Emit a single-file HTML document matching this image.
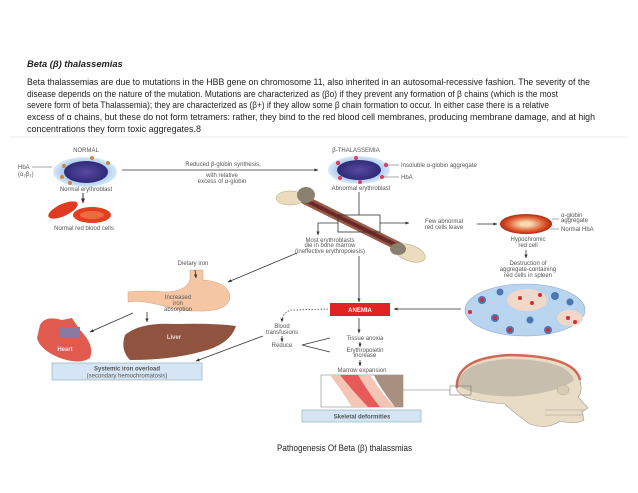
<!DOCTYPE html>
<html><head><meta charset="utf-8"><style>
html,body{margin:0;padding:0;background:#fff}
svg{display:block}
.t{font-family:"Liberation Sans",sans-serif;font-size:6px;fill:#555}
.p{font-family:"Liberation Sans",sans-serif;font-size:9.3px;fill:#222}
</style></head><body>
<svg width="638" height="493" viewBox="0 0 638 493" xmlns="http://www.w3.org/2000/svg">
<defs>
<marker id="a" viewBox="0 0 10 10" refX="9" refY="5" markerWidth="5" markerHeight="5" orient="auto"><path d="M0,1 L10,5 L0,9z" fill="#333"/></marker>
<radialGradient id="cell" cx="50%" cy="50%" r="50%"><stop offset="0.6" stop-color="#9ec3ea"/><stop offset="1" stop-color="#dbe9f7"/></radialGradient>
<radialGradient id="nuc" cx="50%" cy="50%" r="50%"><stop offset="0" stop-color="#5a4aa0"/><stop offset="1" stop-color="#2e2a78"/></radialGradient>
<radialGradient id="hypo" cx="50%" cy="50%" r="50%"><stop offset="0.2" stop-color="#f6d9b0"/><stop offset="0.7" stop-color="#e05a30"/><stop offset="1" stop-color="#b02a10"/></radialGradient>
</defs>
<text x="27" y="67" class="p" font-style="italic" font-weight="bold" font-size="8.5">Beta (β) thalassemias</text>
<text x="27" y="85" class="p" textLength="563" lengthAdjust="spacingAndGlyphs">Beta thalassemias are due to mutations in the HBB gene on chromosome 11, also inherited in an autosomal-recessive fashion. The severity of the</text>
<text x="27" y="97" class="p" textLength="531" lengthAdjust="spacingAndGlyphs">disease depends on the nature of the mutation. Mutations are characterized as (βo) if they prevent any formation of β chains (which is the most</text>
<text x="27" y="108" class="p" textLength="522" lengthAdjust="spacingAndGlyphs">severe form of beta Thalassemia); they are characterized as (β+) if they allow some β chain formation to occur. In either case there is a relative</text>
<text x="27" y="120" class="p" textLength="568" lengthAdjust="spacingAndGlyphs">excess of α chains, but these do not form tetramers: rather, they bind to the red blood cell membranes, producing membrane damage, and at high</text>
<text x="27" y="132" class="p" textLength="174" lengthAdjust="spacingAndGlyphs">concentrations they form toxic aggregates.8</text>
<line x1="10" y1="137" x2="628" y2="137" stroke="#eee" stroke-width="1"/>

<text x="86" y="152" class="t" text-anchor="middle">NORMAL</text>
<ellipse cx="85" cy="172" rx="32" ry="15" fill="url(#cell)"/>
<ellipse cx="86" cy="172" rx="22" ry="11" fill="url(#nuc)"/>
<g fill="#c9864a"><circle cx="64" cy="166" r="2"/><circle cx="92" cy="158" r="2"/><circle cx="108" cy="163" r="2"/><circle cx="62" cy="177" r="2"/><circle cx="70" cy="183" r="2"/></g>
<text x="18" y="169" class="t">HbA</text><text x="18" y="176" class="t">(α₂β₂)</text>
<line x1="32" y1="167" x2="52" y2="167" stroke="#555" stroke-width="0.5"/>
<text x="86" y="191" class="t" text-anchor="middle">Normal erythroblast</text>
<line x1="83" y1="193" x2="83" y2="203" stroke="#333" marker-end="url(#a)"/>
<ellipse cx="63" cy="210" rx="16" ry="6" transform="rotate(-25 63 210)" fill="#e03a20"/>
<ellipse cx="92" cy="215" rx="19" ry="8" fill="#e04020"/>
<ellipse cx="92" cy="215" rx="12" ry="4" fill="#f06a40"/>
<text x="84" y="230" class="t" text-anchor="middle">Normal red blood cells</text>
<line x1="122" y1="170" x2="318" y2="170" stroke="#333" stroke-width="0.8" marker-end="url(#a)"/>
<text x="223" y="166" class="t" text-anchor="middle">Reduced β-globin synthesis,</text>
<text x="222" y="177" class="t" text-anchor="middle">with relative</text>
<text x="222" y="183" class="t" text-anchor="middle">excess of α-globin</text>

<text x="356" y="152" class="t" text-anchor="middle">β-THALASSEMIA</text>
<ellipse cx="359" cy="170" rx="31" ry="14" fill="url(#cell)"/>
<ellipse cx="359" cy="170" rx="22" ry="10" fill="url(#nuc)"/>
<g fill="#d8406a"><circle cx="338" cy="163" r="2.2"/><circle cx="356" cy="158" r="2"/><circle cx="386" cy="165" r="2.2"/><circle cx="340" cy="178" r="2"/><circle cx="360" cy="182" r="2"/><circle cx="382" cy="177" r="2"/></g>
<line x1="388" y1="165" x2="399" y2="165" stroke="#555" stroke-width="0.5"/>
<line x1="384" y1="177" x2="399" y2="177" stroke="#555" stroke-width="0.5"/>
<text x="401" y="167" class="t">Insoluble α-globin aggregate</text>
<text x="401" y="179" class="t">HbA</text>
<text x="361" y="190" class="t" text-anchor="middle">Abnormal erythroblast</text>
<line x1="305" y1="200" x2="410" y2="252" stroke="#9a5a4a" stroke-width="9" stroke-linecap="round"/>
<line x1="305" y1="200" x2="410" y2="252" stroke="#6a2a28" stroke-width="4"/>
<ellipse cx="290" cy="198" rx="14" ry="7" fill="#eadcbc" stroke="#b0a080" stroke-width="0.5"/>
<ellipse cx="306" cy="195" rx="9" ry="8" fill="#8a8070"/>
<ellipse cx="410" cy="253" rx="16" ry="8" fill="#eadcbc" stroke="#b0a080" stroke-width="0.5" transform="rotate(20 410 253)"/>
<ellipse cx="398" cy="249" rx="8" ry="6" fill="#8a8070"/>
<line x1="359" y1="192" x2="359" y2="215" stroke="#333" stroke-width="0.8"/>
<rect x="338" y="215" width="42" height="17" fill="none" stroke="#333" stroke-width="0.8"/>
<polyline points="338,223 318,223 318,235" fill="none" stroke="#333" stroke-width="0.8" marker-end="url(#a)"/>
<line x1="380" y1="223" x2="409" y2="223" stroke="#333" stroke-width="0.8" marker-end="url(#a)"/>
<text x="444" y="223" class="t" text-anchor="middle">Few abnormal</text>
<text x="444" y="229" class="t" text-anchor="middle">red cells leave</text>
<line x1="477" y1="224" x2="497" y2="224" stroke="#333" stroke-width="0.8" marker-end="url(#a)"/>
<ellipse cx="526" cy="224" rx="26" ry="10" fill="url(#hypo)"/>
<line x1="552" y1="219" x2="559" y2="219" stroke="#555" stroke-width="0.5"/>
<line x1="550" y1="229" x2="559" y2="229" stroke="#555" stroke-width="0.5"/>
<text x="561" y="217" class="t">α-globin</text><text x="561" y="222" class="t">aggregate</text>
<text x="561" y="231" class="t">Normal HbA</text>
<text x="528" y="241" class="t" text-anchor="middle">Hypochromic</text>
<text x="528" y="247" class="t" text-anchor="middle">red cell</text>
<line x1="526" y1="250" x2="526" y2="258" stroke="#333" stroke-width="0.8" marker-end="url(#a)"/>
<text x="528" y="265" class="t" text-anchor="middle">Destruction of</text>
<text x="528" y="271" class="t" text-anchor="middle">aggregate-containing</text>
<text x="528" y="277" class="t" text-anchor="middle">red cells in spleen</text>
<text x="330" y="242" class="t" text-anchor="middle">Most erythroblasts</text>
<text x="330" y="247" class="t" text-anchor="middle">die in bone marrow</text>
<text x="330" y="253" class="t" text-anchor="middle">(ineffective erythropoiesis)</text>
<ellipse cx="525" cy="310" rx="60" ry="26" fill="#b8d4ee" stroke="#8aa8c8" stroke-width="0.6"/>
<ellipse cx="527" cy="300" rx="20" ry="11" fill="#f1d8c8"/>
<ellipse cx="570" cy="318" rx="13" ry="8" fill="#f1d8c8"/>
<g fill="#4a78b0"><circle cx="482" cy="300" r="4"/><circle cx="495" cy="318" r="4"/><circle cx="510" cy="330" r="4"/><circle cx="548" cy="330" r="4"/><circle cx="555" cy="296" r="4"/><circle cx="500" cy="292" r="3.5"/><circle cx="570" cy="302" r="3.5"/><circle cx="530" cy="320" r="3.5"/></g>
<g fill="#d8283a"><circle cx="482" cy="300" r="2"/><circle cx="495" cy="318" r="2"/><circle cx="510" cy="330" r="2"/><circle cx="548" cy="330" r="2"/><circle cx="520" cy="298" r="2"/><circle cx="532" cy="303" r="2"/><circle cx="540" cy="295" r="2"/><circle cx="568" cy="318" r="2"/><circle cx="575" cy="322" r="2"/><circle cx="470" cy="312" r="2"/></g>
<line x1="461" y1="309" x2="394" y2="309" stroke="#333" stroke-width="0.8" marker-end="url(#a)"/>
<line x1="359" y1="256" x2="359" y2="302" stroke="#333" stroke-width="0.8" marker-end="url(#a)"/>
<rect x="330" y="303" width="60" height="13" fill="#e02424"/>
<text x="360" y="312" class="t" text-anchor="middle" font-weight="bold" style="fill:#fff">ANEMIA</text>
<path d="M328,309 L292,310 Q282,312 282,322" fill="none" stroke="#555" stroke-width="0.8" stroke-dasharray="1.5,1.5" marker-end="url(#a)"/>
<text x="282" y="328" class="t" text-anchor="middle">Blood</text>
<text x="282" y="334" class="t" text-anchor="middle">transfusions</text>
<line x1="282" y1="336" x2="282" y2="342" stroke="#333" stroke-width="0.8" marker-end="url(#a)"/>
<text x="282" y="347" class="t" text-anchor="middle">Reduce</text>
<polyline points="330,338 302,345 330,352" fill="none" stroke="#333" stroke-width="0.7"/>
<line x1="359" y1="318" x2="359" y2="333" stroke="#333" stroke-width="0.8" marker-end="url(#a)"/>
<text x="365" y="340" class="t" text-anchor="middle">Tissue anoxia</text>
<line x1="360" y1="342" x2="360" y2="347" stroke="#333" stroke-width="0.8" marker-end="url(#a)"/>
<text x="365" y="352" class="t" text-anchor="middle">Erythropoietin</text>
<text x="365" y="357" class="t" text-anchor="middle">increase</text>
<line x1="360" y1="360" x2="360" y2="366" stroke="#333" stroke-width="0.8" marker-end="url(#a)"/>
<text x="362" y="372" class="t" text-anchor="middle">Marrow expansion</text>
<rect x="321" y="375" width="82" height="32" fill="#fff" stroke="#888" stroke-width="0.6"/>
<path d="M374,375 L403,375 L403,407 L395,407 Q378,385 374,375z" fill="#a89080"/>
<path d="M330,375 L370,375 Q385,398 395,407 L352,407 Q340,388 330,375z" fill="#f4c4b4"/>
<path d="M340,375 L358,375 Q370,395 380,407 L368,407 Q352,390 340,375z" fill="#e85a5a"/>
<rect x="302" y="410" width="119" height="12" fill="#d5e5f5" stroke="#8aa" stroke-width="0.6"/>
<text x="362" y="418.5" class="t" text-anchor="middle" font-weight="bold" fill="#334">Skeletal deformities</text>
<line x1="403" y1="390" x2="450" y2="390" stroke="#777" stroke-width="0.6"/>
<path d="M456,388 Q455,358 510,355 Q575,356 580,380 Q583,392 578,397 L588,408 L582,412 L584,420 Q575,425 560,421 Q548,430 530,424 Q515,414 505,404 Q480,402 468,398 Q458,394 456,388z" fill="#e8dcc4" stroke="#999" stroke-width="0.6"/>
<path d="M458,386 Q458,362 510,359 Q568,360 574,380 Q560,392 520,396 Q480,398 458,386z" fill="#c8beae"/>
<path d="M457,388 Q455,358 510,355 Q575,356 580,380" fill="none" stroke="#d06858" stroke-width="2.5"/>
<ellipse cx="563" cy="390" rx="6" ry="5" fill="#d8ccb4" stroke="#999" stroke-width="0.4"/>
<path d="M545,410 L585,410 M545,415 L584,415" stroke="#999" stroke-width="0.5"/>
<rect x="450" y="386" width="21" height="9" fill="none" stroke="#777" stroke-width="0.6"/>
<text x="193" y="265" class="t" text-anchor="middle">Dietary iron</text>
<line x1="297" y1="253" x2="228" y2="282" stroke="#333" stroke-width="0.8" marker-end="url(#a)"/>
<path d="M190,270 L203,270 L203,280 Q228,282 230,296 Q230,310 205,311 Q180,312 160,305 Q140,300 128,302 L128,292 Q145,290 165,292 Q185,292 190,280z" fill="#f4c6a4" stroke="#d4a080" stroke-width="0.5"/>
<line x1="195" y1="270" x2="196" y2="278" stroke="#333" stroke-width="0.8" marker-end="url(#a)"/>
<text x="178" y="299" class="t" text-anchor="middle">Increased</text>
<text x="178" y="305" class="t" text-anchor="middle">iron</text>
<text x="178" y="311" class="t" text-anchor="middle">absorption</text>
<polyline points="147,312 147,322" stroke="#333" stroke-width="0.8" marker-end="url(#a)"/>
<line x1="133" y1="313" x2="90" y2="332" stroke="#333" stroke-width="0.8" marker-end="url(#a)"/>
<path d="M40,325 Q45,315 62,320 L72,318 L80,330 Q95,345 90,358 Q80,365 60,358 Q40,350 37,338z" fill="#e05a50"/>
<rect x="60" y="327" width="20" height="10" fill="#8a7aa0"/>
<text x="65" y="351" class="t" text-anchor="middle" font-weight="bold" style="fill:#fde">Heart</text>
<path d="M125,335 Q140,322 175,324 Q215,323 236,326 Q230,345 200,352 Q170,360 130,360 Q120,350 125,335z" fill="#8e5440"/>
<text x="174" y="339" class="t" text-anchor="middle" font-weight="bold" style="fill:#f0d8c8">Liver</text>
<line x1="263" y1="336" x2="196" y2="361" stroke="#333" stroke-width="0.8" marker-end="url(#a)"/>
<rect x="52" y="363" width="150" height="17" fill="#d5e5f5" stroke="#8aa" stroke-width="0.6"/>
<text x="127" y="370.5" class="t" text-anchor="middle" font-weight="bold" fill="#334">Systemic iron overload</text>
<text x="127" y="377.5" class="t" text-anchor="middle">(secondary hemochromatosis)</text>
<text x="277" y="451" class="p" font-size="8" textLength="135" lengthAdjust="spacingAndGlyphs">Pathogenesis Of Beta (β) thalassmias</text>
</svg>
</body></html>
